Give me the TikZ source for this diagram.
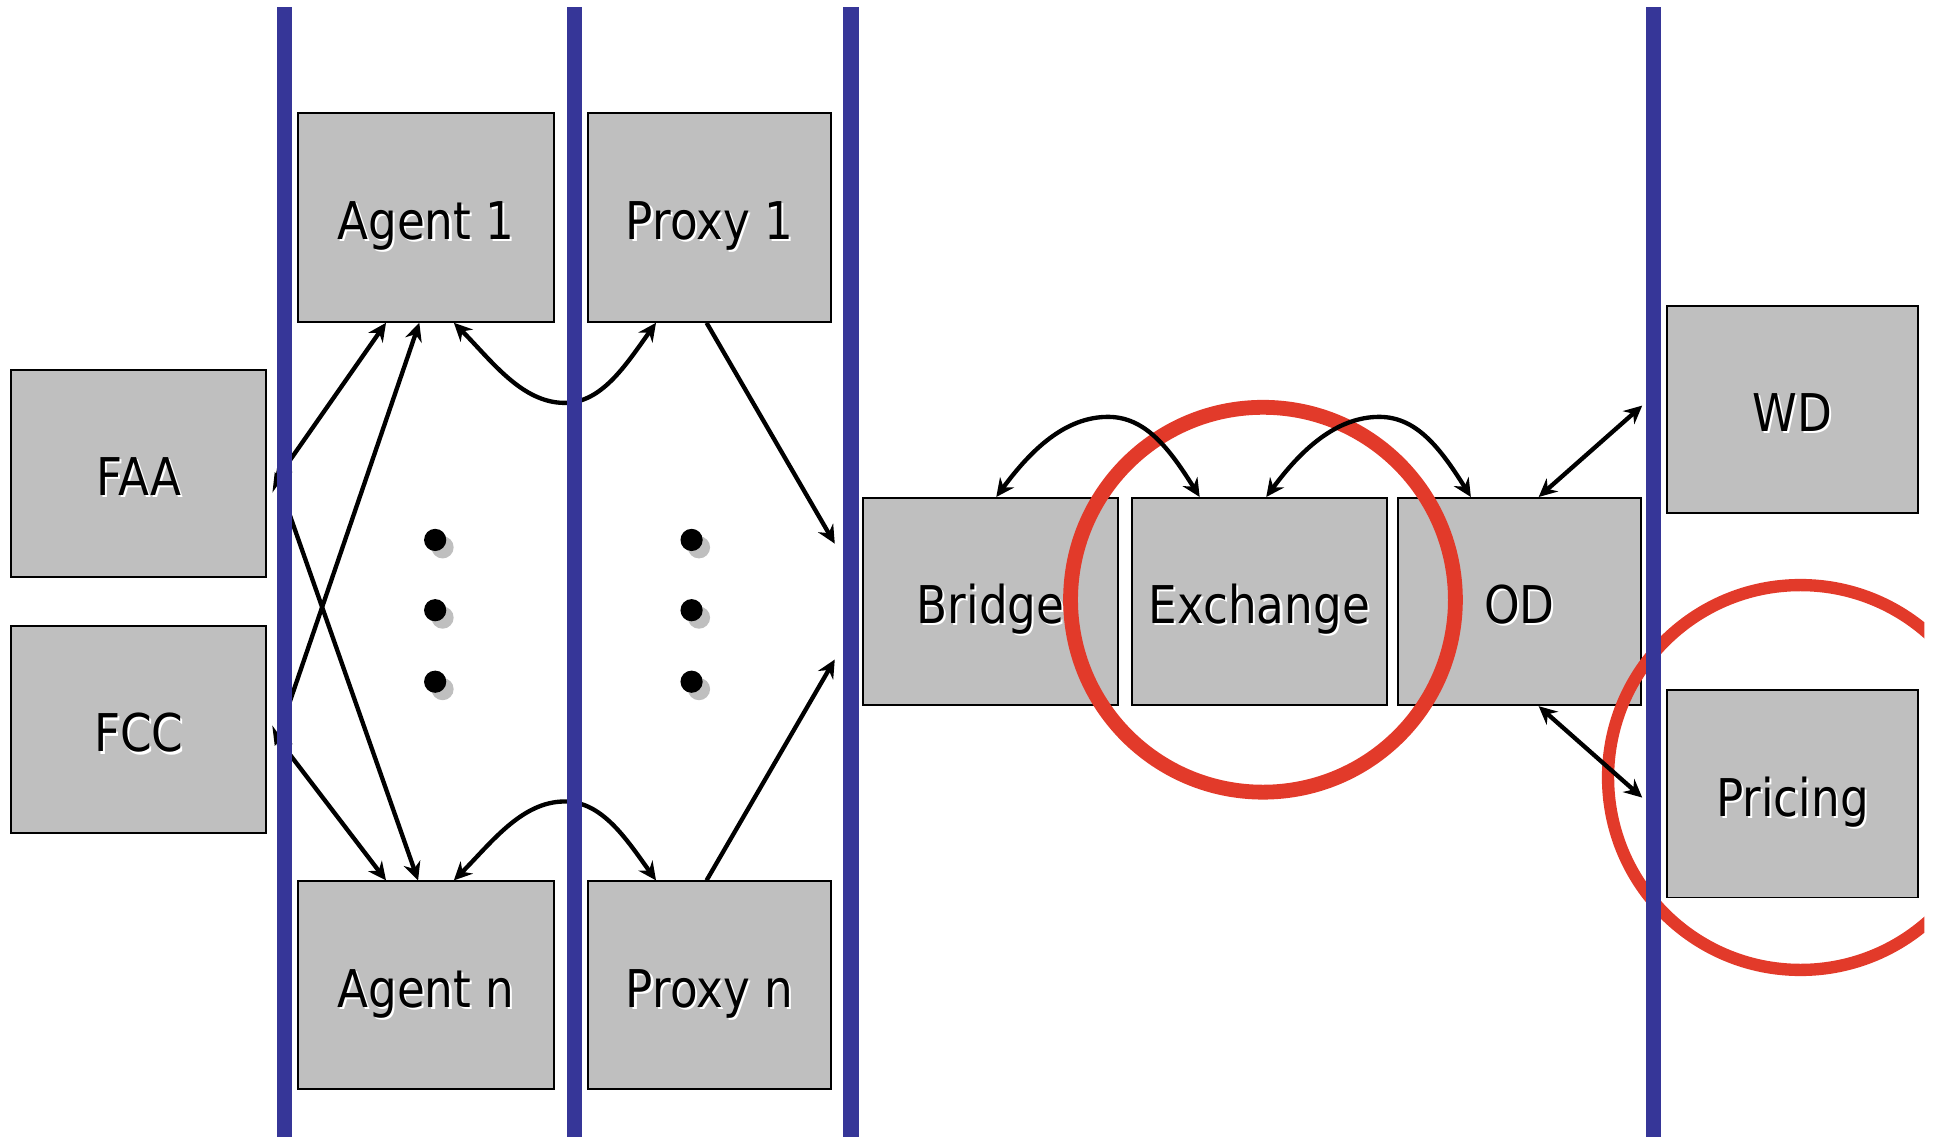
\documentclass[tikz,border=0pt]{standalone}
\usepackage{fontspec}
\setmainfont{DejaVu Sans}[FakeStretch=0.87]
\usetikzlibrary{arrows.meta,calc}
\definecolor{laneblue}{RGB}{54,54,152}
\definecolor{ringred}{RGB}{226,58,42}
\definecolor{boxgray}{RGB}{191,191,191}
% label with a thin white drop shadow
\newcommand{\shadowed}[1]{\rlap{\kern0.5pt\raisebox{-0.5pt}{\color{white}#1}}#1}

\begin{document}
\begin{tikzpicture}[x=0.01cm,y=-0.01cm,
  box/.style={draw=black, line width=0.45pt, fill=boxgray, minimum height=1.68cm,
    inner sep=0pt, text height=0.36cm, text depth=0pt,
    font=\fontsize{12}{14}\selectfont},
  lane/.style={draw=laneblue, line width=0.122cm},
  ring/.style={draw=ringred},
  tip/.tip={Stealth[length=4.2pt,width=4pt,inset=1.4pt]},
  link/.style={line width=1pt, tip-tip},
  oneway/.style={line width=1pt, -tip},
  dotshade/.style={fill=boxgray},
  dotfill/.style={fill=black}]

\useasboundingbox (0,0) rectangle (1568,922);

% ---- boxes ----
\node[box, minimum width=2.07cm] (faa)    at (112.5,384) {\shadowed{FAA}};
\node[box, minimum width=2.07cm] (fcc)    at (112.5,592) {\shadowed{FCC}};
\node[box, minimum width=2.07cm, minimum height=1.69cm] (agent1) at (345.5,176.5) {\shadowed{Agent 1}};
\node[box, minimum width=2.07cm] (agentn) at (345.5,799) {\shadowed{Agent n}};
\node[box, minimum width=1.97cm, minimum height=1.69cm] (proxy1) at (575.5,176.5) {\shadowed{Proxy 1}};
\node[box, minimum width=1.97cm] (proxyn) at (575.5,799) {\shadowed{Proxy n}};
\node[box, minimum width=2.07cm] (bridge) at (803.5,488) {\shadowed{Bridge}};
\node[box, minimum width=2.07cm] (exch)   at (1021.5,488) {\shadowed{Exchange}};
\node[box, minimum width=1.97cm] (od)     at (1232.5,488) {\shadowed{OD}};
\node[box, minimum width=2.04cm] (wd)     at (1454,332) {\shadowed{WD}};
\node[box, minimum width=2.04cm] (pricing) at (1454,644) {\shadowed{Pricing}};

% ---- highlight rings ----
\draw[ring, line width=0.12cm] (1024.5,486.5) circle[radius=1.56cm];
\begin{scope}
  \clip (0,0) rectangle (1561,922);
  \draw[ring, line width=0.10cm] (1460.5,630.7) circle[radius=1.56cm];
\end{scope}

% ---- free ends at the lane ----
\coordinate (p1end) at ($(bridge.west)+(-22,-47)$);
\coordinate (pnend) at ($(bridge.west)+(-22,47)$);
\coordinate (wdend) at ($(wd.west)+(-19,-3)$);
\coordinate (prend) at ($(pricing.west)+(-19,3)$);

% ---- regulators to agents ----
\draw[link] ($(faa.east)+(6,7)$) -- ($(agent1.south west)+(72,0)$);
\draw[link] ($(faa.east)+(6,-1)$) -- ($(agentn.north west)+(98,0)$);
\draw[link] ($(fcc.east)+(6,13)$) -- ($(agent1.south west)+(99,0)$);
\draw[link] ($(fcc.east)+(6,4)$) -- ($(agentn.north west)+(72,0)$);

% ---- agents to proxies ----
\coordinate (m1) at ($(agent1.south east)!0.5!(proxy1.south west)+(-5,65)$);
\coordinate (m2) at ($(agentn.north east)!0.5!(proxyn.north west)+(-5,-64)$);
\draw[link] ($(agent1.south west)+(127,0)$) .. controls +(30,30) and +(-35,0) .. (m1)
  .. controls +(30,0) and +(-25,35) .. ($(proxy1.south west)+(56,0)$);
\draw[link] ($(agentn.north west)+(127,0)$) .. controls +(30,-30) and +(-35,0) .. (m2)
  .. controls +(30,0) and +(-25,-35) .. ($(proxyn.north west)+(56,0)$);

% ---- proxies to the bridge lane ----
\draw[oneway] ($(proxy1.south west)+(97,0)$) -- (p1end);
\draw[oneway] ($(proxyn.north west)+(97,0)$) -- (pnend);

% ---- bridge / exchange / OD ----
\coordinate (k1) at ($(bridge.north east)+(-9,-65)$);
\coordinate (k2) at ($(exch.north east)+(-7,-65)$);
\draw[link] ($(bridge.north west)+(109,0)$) .. controls +(28,-38) and +(-35,0) .. (k1)
  .. controls +(30,0) and +(-25,-40) .. ($(exch.north west)+(56,0)$);
\draw[link] ($(exch.north west)+(110,0)$) .. controls +(28,-38) and +(-35,0) .. (k2)
  .. controls +(30,0) and +(-25,-40) .. ($(od.north west)+(60,0)$);
\draw[link] ($(od.north west)+(115,0)$) -- (wdend);
\draw[link] ($(od.south west)+(115,0)$) -- (prend);

% ---- lanes ----
\draw[lane] (230.9,5.7) -- (230.9,922);
\draw[lane] (466,5.7) -- (466,922);
\draw[lane] (690.3,5.7) -- (690.3,922);
\draw[lane] (1341.4,5.7) -- (1341.4,922);

% ---- ellipsis dots ----
\foreach \x in {353,561}{
  \foreach \y in {438,495,553}{
    \fill[dotshade] (\x+6,\y+6) circle[radius=0.09cm];
    \fill[dotfill] (\x,\y) circle[radius=0.09cm];
  }
}
\end{tikzpicture}
\end{document}
